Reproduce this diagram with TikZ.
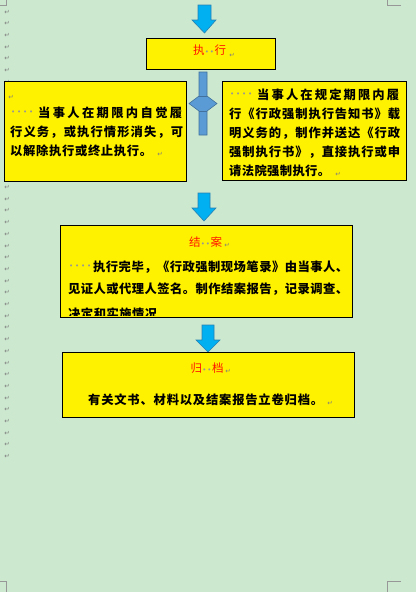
\documentclass[tikz,border=0pt]{standalone}
\usepackage{fontspec}
\newfontfamily\cjk{Noto Sans CJK SC}
\newfontfamily\dejavu{DejaVu Sans}
\definecolor{bg}{RGB}{204,232,207}
\definecolor{markgray}{RGB}{125,125,125}
\definecolor{dotgray}{RGB}{150,150,150}
\definecolor{arrblue}{RGB}{0,176,240}
\definecolor{arrblueline}{RGB}{40,130,180}
\definecolor{dblue}{RGB}{91,155,213}
\definecolor{dblueline}{RGB}{65,113,156}
\definecolor{titlered}{RGB}{255,20,0}
\def\sprA#1{#1\sprB}
\def\sprB#1{\ifx#1\relax\else\hfil#1\expandafter\sprB\fi}
\newcommand\spr[2]{\hbox to #1{\sprA #2\relax}}
\newcommand\wdot[1]{\makebox[#1]{\color{dotgray}\dejavu\fontsize{7}{7}\selectfont •}}
\newcommand\fourdots{\wdot{6pt}\wdot{6pt}\wdot{6pt}\wdot{6pt}}
\newcommand\twodots{\wdot{5pt}\wdot{5pt}}
\tikzset{
  boxy/.style={draw=black, line width=1.3pt, fill=yellow, inner sep=0pt},
  bodytext/.style={anchor=west, inner sep=0pt, font=\cjk\bfseries\fontsize{12.3}{14}\selectfont},
  titletext/.style={inner sep=0pt, font=\cjk\fontsize{11.5}{14}\selectfont},
  pmark/.style={inner sep=0pt, text=markgray, font=\dejavu\fontsize{6.5}{7}\selectfont},
  dotsnode/.style={anchor=west, inner sep=0pt},
  downarrow/.style={fill=arrblue, draw=arrblueline, line width=0.6pt},
  cornermark/.style={draw=markgray!80, line width=0.8pt}
}
\begin{document}
\begin{tikzpicture}[x=1pt,y=-1pt]
\useasboundingbox (0,0) rectangle (416,592);
\fill[bg] (0,0) rectangle (416,592);
% corner marks
\draw[cornermark] (0,5) -- (6,5) -- (6,0);
\draw[cornermark] (401,5) -- (387,5) -- (387,0);
\draw[cornermark] (0,581) -- (6.5,581) -- (6.5,592);
\draw[cornermark] (401,581) -- (387,581) -- (387,592);
% paragraph marks in left margin
\foreach \k in {0,...,38} {
  \node[pmark] (pm\k) at (7,{12+11.7*\k}) {↵};
}
% arrow 1
\draw[downarrow] (198,5) -- (211,5) -- (211,20) -- (216,20) -- (204.5,33) -- (192,20) -- (198,20) -- cycle;
% box exec
\node[boxy, anchor=north west, minimum width=129pt, minimum height=31pt] (exec) at (146,38) {};
\node[titletext] (exectitle) at (209.5,50.5) {\textcolor{titlered}{执}\twodots\textcolor{titlered}{行}};
\node[pmark] (execpm) at (232,55) {↵};
% double arrow
\draw[fill=dblue, draw=dblueline, line width=0.6pt] (199,72) -- (207,72) -- (207,96) -- (217,103.5) -- (207,111) -- (207,135) -- (199,135) -- (199,111) -- (189,103.5) -- (199,96) -- cycle;
\draw[dblueline, line width=0.6pt] (199,96) -- (207,96) (199,111) -- (207,111);
% left box
\node[boxy, anchor=north west, minimum width=182pt, minimum height=100pt] (leftbox) at (4,81) {};
\node[pmark] (leftpm0) at (11,97) {↵};
\node[dotsnode] (leftdots) at (10,113) {\fourdots};
\node[bodytext] (left1) at (38,113) {\spr{144pt}{当事人在期限内自觉履}};
\node[bodytext] (left2) at (10,132) {\spr{173pt}{行义务，或执行情形消失，可}};
\node[bodytext] (left3) at (10,151) {\spr{142pt}{以解除执行或终止执行。}};
\node[pmark] (leftpm) at (160,154) {↵};
% right box
\node[boxy, anchor=north west, minimum width=184pt, minimum height=99pt] (rightbox) at (222,81) {};
\node[dotsnode] (rightdots) at (229,95) {\fourdots};
\node[bodytext] (right1) at (257,95) {\spr{142pt}{当事人在规定期限内履}};
\node[bodytext] (right2) at (229,114) {\spr{171pt}{行《行政强制执行告知书》载}};
\node[bodytext] (right3) at (229,133) {\spr{171pt}{明义务的，制作并送达《行政}};
\node[bodytext] (right4) at (229,152) {\spr{171pt}{强制执行书》，直接执行或申}};
\node[bodytext] (right5) at (229,171) {\spr{101pt}{请法院强制执行。}};
\node[pmark] (rightpm) at (338,174) {↵};
% arrow 2
\draw[downarrow] (198,193) -- (210,193) -- (210,208) -- (216,208) -- (204,221) -- (192,208) -- (198,208) -- cycle;
% case closed box
\node[boxy, anchor=north west, minimum width=292pt, minimum height=92pt] (closebox) at (60,225) {};
\node[titletext] (closetitle) at (205.5,242) {\textcolor{titlered}{结}\twodots\textcolor{titlered}{案}};
\node[pmark] (closepm) at (227,245) {↵};
\node[dotsnode] (closedots) at (68,267) {\fourdots};
\node[bodytext] (close1) at (93,267) {\spr{255pt}{执行完毕，《行政强制现场笔录》由当事人、}};
\node[bodytext] (close2) at (68,289) {\spr{280pt}{见证人或代理人签名。制作结案报告，记录调查、}};
\begin{scope}
  \clip (61,226) rectangle (351,315.6);
  \node[bodytext] (close3) at (68,313.5) {\spr{89pt}{决定和实施情况}};
\end{scope}
% arrow 3
\draw[downarrow] (202,325) -- (214,325) -- (214,340) -- (220,340) -- (208,352) -- (196,340) -- (202,340) -- cycle;
% archive box
\node[boxy, anchor=north west, minimum width=292pt, minimum height=65pt] (archbox) at (62,352) {};
\node[titletext] (archtitle) at (207,368) {\textcolor{titlered}{归}\twodots\textcolor{titlered}{档}};
\node[pmark] (archpm) at (228,371) {↵};
\node[bodytext] (arch1) at (88,400) {\spr{235pt}{有关文书、材料以及结案报告立卷归档。}};
\node[pmark] (archpm2) at (330,403) {↵};
\end{tikzpicture}
\end{document}
